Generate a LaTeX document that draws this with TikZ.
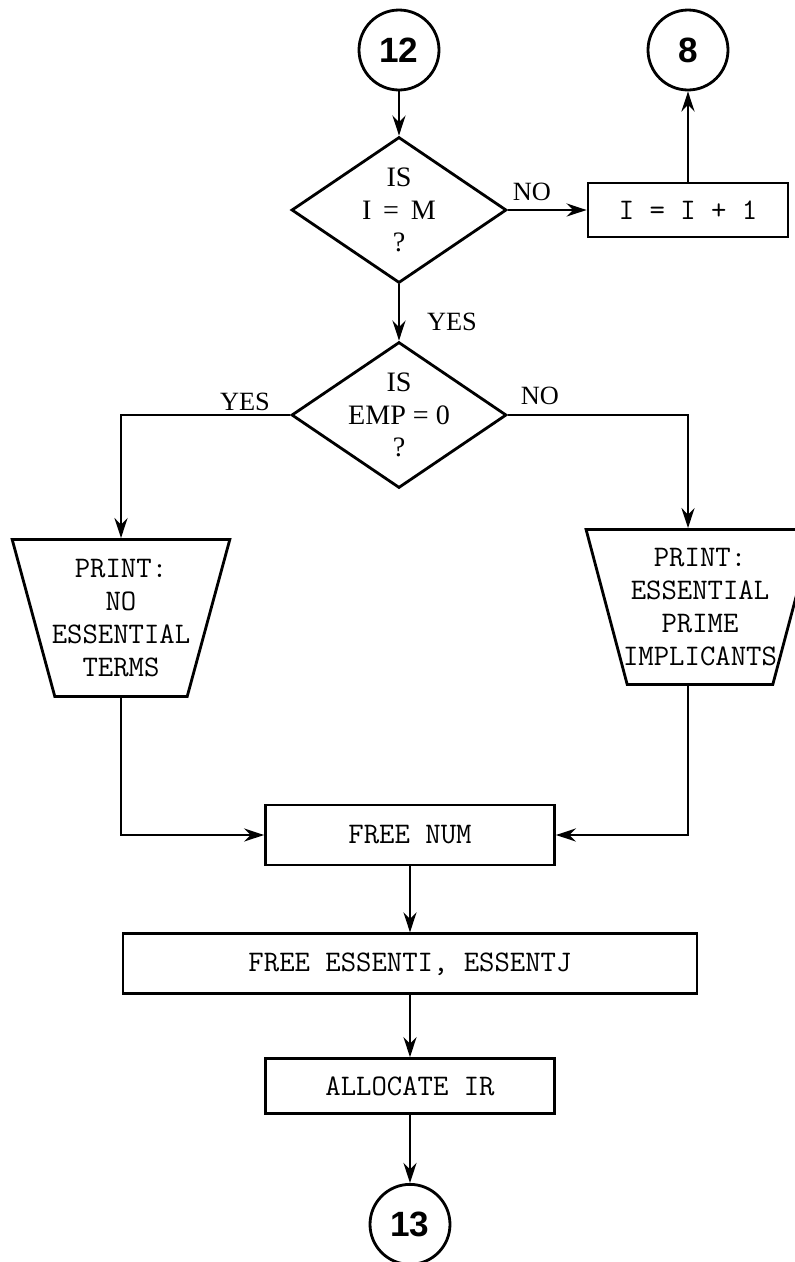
\documentclass[tikz,border=0pt]{standalone}
\usepackage{fontspec}
\setmainfont{Liberation Serif}
\setsansfont{Liberation Sans}
\usetikzlibrary{arrows.meta,positioning,shapes.geometric}
\tikzset{
  proc/.style={draw,line width=1.6pt,minimum height=12mm,inner sep=2pt,
    font=\ttfamily\fontsize{17}{18}\selectfont},
  decision/.style={draw,line width=1.6pt,diamond,aspect=1.47,inner sep=-3pt,
    minimum width=43mm,minimum height=29.2mm,align=center,font=\fontsize{16}{18.7}\selectfont},
  printout/.style={draw,line width=1.6pt,trapezium,shape border rotate=180,
    trapezium angle=71,trapezium stretches=true,inner xsep=-8pt,inner ysep=-4pt,
    align=center,font=\ttfamily\fontsize{17}{18.7}\selectfont},
  connector/.style={draw,circle,line width=1.6pt,minimum size=16mm,inner sep=0pt,
    font=\sffamily\bfseries\fontsize{20}{20}\selectfont},
  branch/.style={font=\fontsize{15}{15}\selectfont},
  flow/.style={-{Stealth[length=4mm,width=2.6mm]},line width=1.6pt}
}
\begin{document}
\begin{tikzpicture}[x=0.02cm,y=-0.02cm]
  \useasboundingbox (0,0) rectangle (795,1262);
  \node[connector] (c12) at (399,50) {12};
  \node[decision] (ism) at (399,210) {IS\\I \,=\, M\\?};
  \node[proc,minimum width=40mm,minimum height=10.8mm] (incr) at (688,210) {I = I + 1};
  \node[connector] (c8) at (688,50) {8};
  \node[decision] (isemp) at (399,415) {IS\\EMP = 0\\?};
  \node[printout,minimum width=43.6mm,minimum height=31.4mm] (notrm) at (121,618) {PRINT:\\NO\\ESSENTIAL\\TERMS};
  \node[printout,minimum width=45.6mm,minimum height=31mm] (esspi) at (700,607) {PRINT:\\ESSENTIAL\\PRIME\\IMPLICANTS};
  \node[proc,minimum width=57.8mm] (freenum) at (410,835) {FREE NUM};
  \node[proc,minimum width=114.8mm,below=13.2mm of freenum] (freeess) {FREE ESSENTI, ESSENTJ};
  \node[proc,minimum width=57.8mm,minimum height=11mm,below=12.4mm of freeess] (alloc) {ALLOCATE IR};
  \node[connector,below=13.6mm of alloc] (c13) {13};
  \node[branch] (no1) at (532,192) {NO};
  \node[branch] (yes1) at (452,322) {YES};
  \node[branch] (yes2) at (245,402) {YES};
  \node[branch] (no2) at (540,396) {NO};
  \draw[flow] (c12)--(ism); \draw[flow] (ism)--(incr); \draw[flow] (incr)--(c8);
  \draw[flow] (ism)--(isemp);
  \draw[flow] (isemp.west) -| (notrm.north);
  \draw[flow] (isemp.east) -| ([xshift=-2.4mm]esspi.north);
  \draw[flow] (notrm.south) |- (freenum.west);
  \draw[flow] ([xshift=-2.4mm]esspi.south) |- (freenum.east);
  \draw[flow] (freenum)--(freeess); \draw[flow] (freeess)--(alloc); \draw[flow] (alloc)--(c13);
\end{tikzpicture}
\end{document}
